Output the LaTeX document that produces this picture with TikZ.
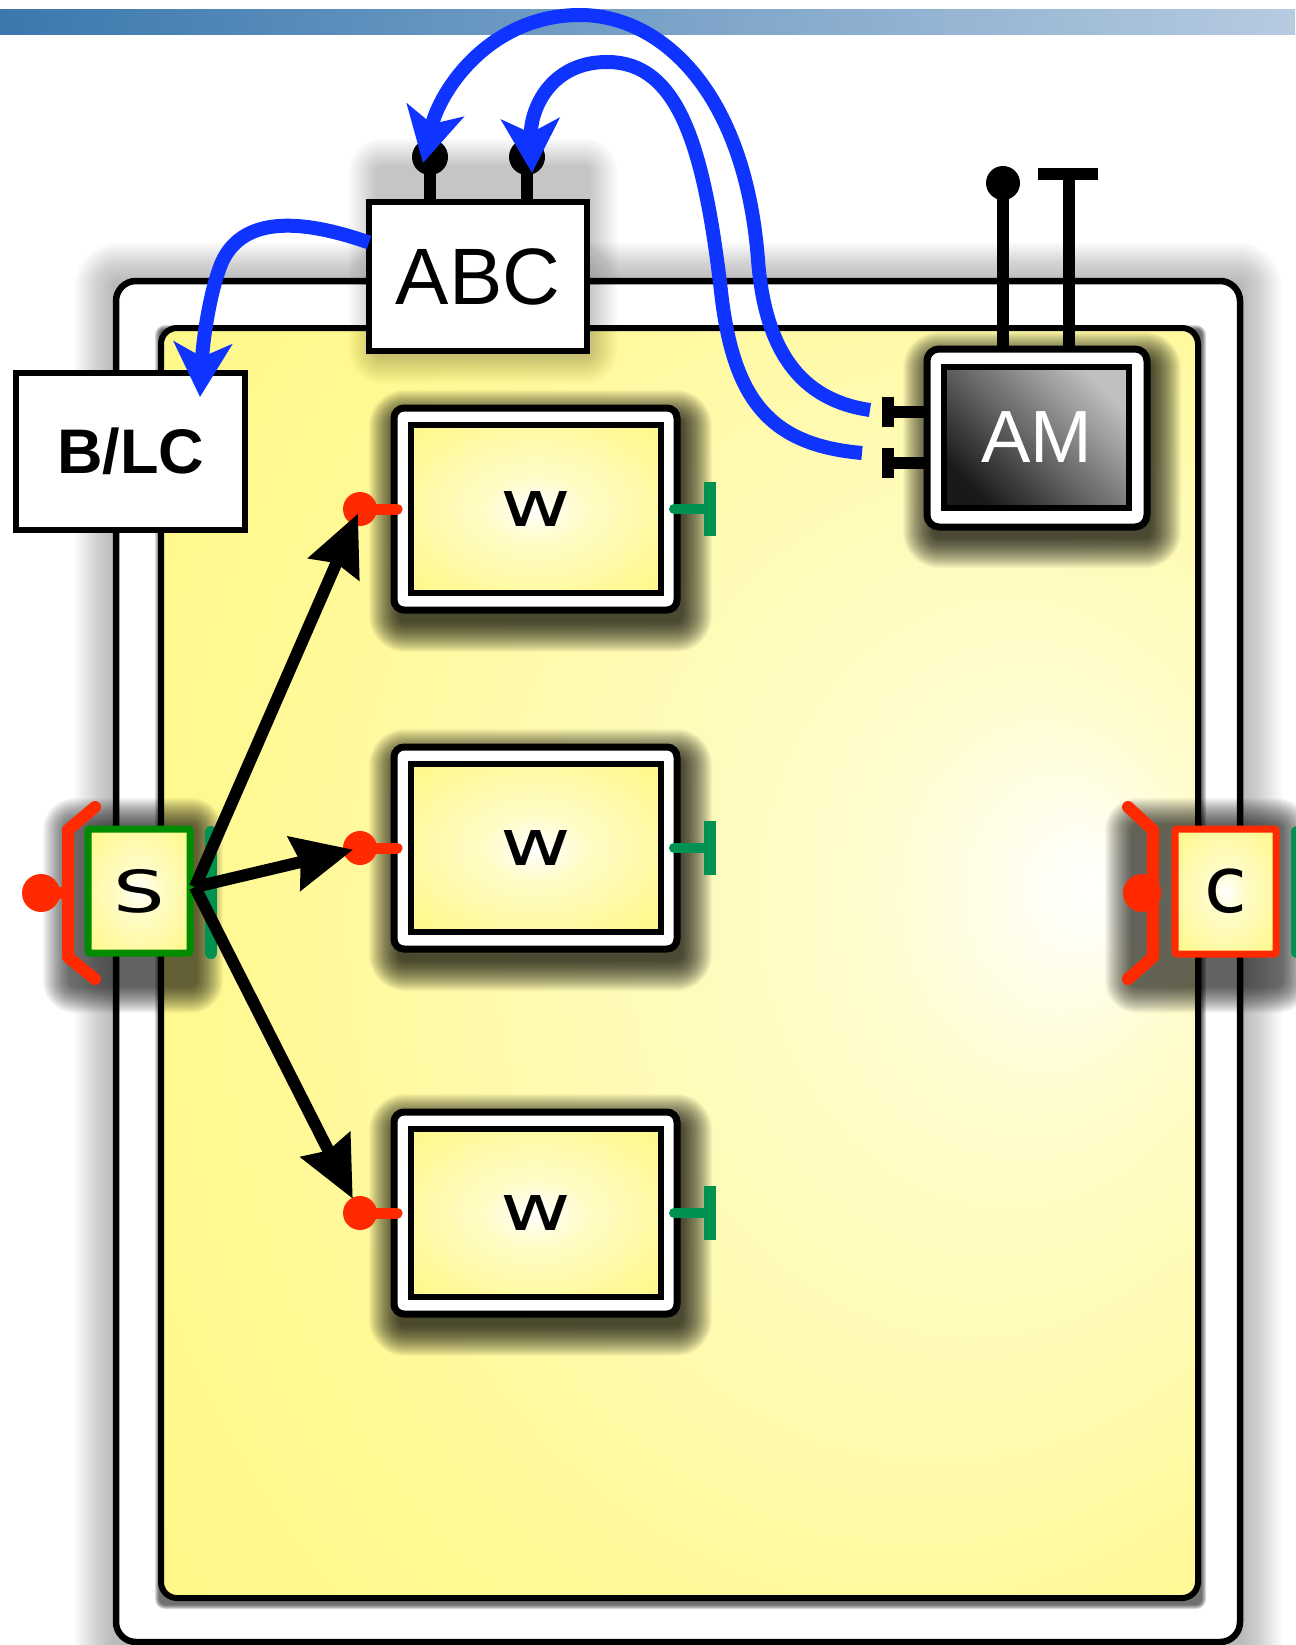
\documentclass[tikz,border=0pt]{standalone}
\usepackage{fontspec}
\setmainfont{Liberation Sans}
\newfontfamily\handfont{DejaVu Sans}
\usetikzlibrary{arrows.meta,calc}
\definecolor{bluearr}{RGB}{16,52,255}
\definecolor{pinred}{RGB}{255,42,0}
\definecolor{sgreen}{RGB}{0,140,0}
\definecolor{pingreen}{RGB}{0,146,80}
\definecolor{yelA}{RGB}{255,247,115}
\definecolor{barL}{RGB}{59,120,174}
\definecolor{barR}{RGB}{182,203,224}
\pgfdeclareradialshading{bigyel}{\pgfpoint{20bp}{3bp}}{color(0bp)=(white); color(8bp)=(yelA!35!white); color(32bp)=(yelA!78!white); color(58bp)=(yelA)}
\pgfdeclareradialshading{wyel}{\pgfpoint{0bp}{0bp}}{color(0bp)=(white); color(10bp)=(yelA!40!white); color(36bp)=(yelA!88!white); color(58bp)=(yelA)}
% soft shadow: x1 y1 x2 y2 dx dy maxr step opacity
\newcommand{\mkshadow}[9]{%
  \foreach \rr in {0,#8,...,#7}{%
    \pgfmathsetmacro{\rc}{\rr+6}%
    \fill[black, opacity=#9, rounded corners=\rc pt]
      (#1+#5-\rr,#2+#6-\rr) rectangle (#3+#5+\rr,#4+#6+\rr);
  }}
\begin{document}
\begin{tikzpicture}[x=1pt,y=-1pt,
  every node/.style={inner sep=0pt, outer sep=0pt},
  frameo/.style={draw=black, line width=6.5pt, fill=white, rounded corners=20pt,
    minimum width=1124pt, minimum height=1361pt},
  framei/.style={draw=black, line width=6pt, shade, shading=bigyel, rounded corners=16pt,
    minimum width=1037pt, minimum height=1270pt},
  abcbox/.style={draw=black, line width=6pt, fill=white, minimum width=218pt, minimum height=149pt,
    font=\fontsize{80}{90}\selectfont},
  blcbox/.style={draw=black, line width=6.5pt, fill=white, minimum width=229pt, minimum height=157pt,
    font=\bfseries\fontsize{63}{70}\selectfont},
  amout/.style={draw=black, line width=7pt, fill=white, rounded corners=12pt,
    minimum width=220pt, minimum height=178pt},
  amin/.style={draw=black, line width=6pt, shade, top color=black!25, bottom color=black!90,
    shading angle=-45, minimum width=185pt, minimum height=141pt,
    text=white, font=\fontsize{74}{80}\selectfont},
  wout/.style={draw=black, line width=7pt, fill=white, rounded corners=10pt,
    minimum width=283pt, minimum height=202pt},
  win/.style={draw=black, line width=6pt, shade, shading=wyel,
    minimum width=250pt, minimum height=168pt, font=\handfont\fontsize{64}{70}\selectfont},
  sbox/.style={draw=sgreen, line width=7pt, shade, shading=wyel, rounded corners=2pt,
    minimum width=102pt, minimum height=124pt, font=\handfont\fontsize{58}{64}\selectfont},
  cbox/.style={draw=pinred, line width=7pt, shade, shading=wyel, rounded corners=2pt,
    minimum width=101pt, minimum height=125pt, font=\handfont\fontsize{78}{84}\selectfont},
  redstem/.style={draw=pinred, line width=11pt, line cap=round},
  redline/.style={draw=pinred, line width=12pt, line cap=round, line join=round},
  greenstem/.style={draw=pingreen, line width=10pt, line cap=round},
  greenbar/.style={draw=pingreen, line width=12pt},
  greenbarr/.style={draw=pingreen, line width=12pt, line cap=round},
  blackstem/.style={draw=black, line width=12pt},
  blk/.style={draw=black, line width=12pt, -{Stealth[length=60pt,width=54pt,inset=6pt]}},
  blu/.style={draw=bluearr, line width=14pt, -{Stealth[length=54pt,width=58pt,inset=14pt]}}
]
\useasboundingbox (0,0) rectangle (1295,1645);

% top bar
\shade[left color=barL, right color=barR] (0,10) rectangle (1295,35);

% frames
\mkshadow{113}{278}{1243}{1650}{0}{3}{40}{1.5}{0.012}
\node[frameo] (outer) at (678,961.5) {};
\mkshadow{158}{325}{1201}{1601}{1}{4}{4}{1}{0.15}
\node[framei] (inner) at (679.5,963) {};

% ABC with pins
\mkshadow{372}{160}{586}{350}{4}{6}{28}{1}{0.006}
\draw[blackstem] (430,205) -- (430,157);
\fill (430,157) circle[radius=18];
\draw[blackstem] (527,205) -- (527,157);
\fill (527,157) circle[radius=18];
\node[abcbox] (abc) at (478,276.5) {ABC};

% B/LC
\node[blcbox] (blc) at (130.5,451.5) {B/LC};

% AM with pins
\mkshadow{928}{350}{1146}{526}{5}{12}{30}{1}{0.035}
\draw[blackstem] (1003,352) -- (1003,183);
\fill (1003,183) circle[radius=17];
\draw[blackstem] (1069,352) -- (1069,174);
\draw[blackstem] (1038,174) -- (1098,174);
\node[amout] (am) at (1037,438) {};
\node[amin] (amt) at (1036.5,437.5) {AM};
\draw[blackstem] ($(am.west)+(0,-26)$) -- ++(-39,0) coordinate (amT1);
\draw[blackstem] ($(amT1)+(0,15)$) -- ($(amT1)+(0,-15)$);
\draw[blackstem] ($(am.west)+(0,25)$) -- ++(-39,0) coordinate (amT2);
\draw[blackstem] ($(amT2)+(0,15)$) -- ($(amT2)+(0,-15)$);

% W boxes
\foreach \i/\yy in {1/509,2/848,3/1213}{
  \pgfmathsetmacro{\ya}{\yy-101}
  \pgfmathsetmacro{\yb}{\yy+101}
  \mkshadow{394}{\ya}{677}{\yb}{5}{12}{30}{1}{0.035}
  \node[wout] (w\i) at (535.5,\yy) {};
  \node[win] (w\i i) at (535.5,\yy) {\scalebox{1.35}[1]{w}};
  \draw[redstem] ($(w\i.west)+(3,0)$) -- ++(-37,0) coordinate (w\i p);
  \fill[pinred] (w\i p) circle[radius=17];
  \draw[greenstem] ($(w\i.east)+(-3,0)$) -- ++(36,0) coordinate (w\i g);
  \draw[greenbar] ($(w\i g)+(0,-27)$) -- ($(w\i g)+(0,27)$);
}

% S
\mkshadow{64}{812}{192}{975}{5}{12}{26}{1}{0.033}
\node[sbox] (s) at (139,891) {\scalebox{1.4}[1]{S}};
\draw[redline] (95,807) -- (68,830) -- (68,957) -- (95,979);
\draw[redline] (41,893) -- (68,893);
\fill[pinred] (41,893) circle[radius=19];
\draw[greenbarr] (211,832) -- (211,953);

% C
\mkshadow{1126}{812}{1278}{975}{5}{12}{26}{1}{0.033}
\node[cbox] (c) at (1225.5,891.5) {c};
\draw[redline] (1128,807) -- (1153,830) -- (1153,957) -- (1128,979);
\fill[pinred] (1142,893) circle[radius=19];
\draw[greenbarr] (1297,832) -- (1297,952);

% black arrows
\coordinate (sfan) at (195,887);
\draw[blk, shorten >=5pt] (sfan) -- (w1p);
\draw[blk, shorten >=7pt] (sfan) -- (w2p);
\draw[blk, shorten >=16pt] (sfan) -- (w3p);

% blue arrows
\coordinate (amp1) at (870,410);
\coordinate (amp2) at (862,453);
\coordinate (abcp1) at (423,163);
\coordinate (abcp2) at (532,173);
\coordinate (abcside) at ($(abc.west)+(0,-34)$);
\coordinate (blctop) at (200,397);
\draw[blu] (amp1) .. controls (800,400) and (765,350) .. (758,260)
  .. controls (745,90) and (660,15) .. (580,15)
  .. controls (490,15) and (440,90) .. (abcp1);
\draw[blu] (amp2) .. controls (770,445) and (735,400) .. (722,300)
  .. controls (705,150) and (680,62) .. (607,62)
  .. controls (550,62) and (530,110) .. (abcp2);
\draw[blu] (abcside) .. controls (310,222) and (245,212) .. (222,262)
  .. controls (210,290) and (203,340) .. (blctop);
\end{tikzpicture}
\end{document}
